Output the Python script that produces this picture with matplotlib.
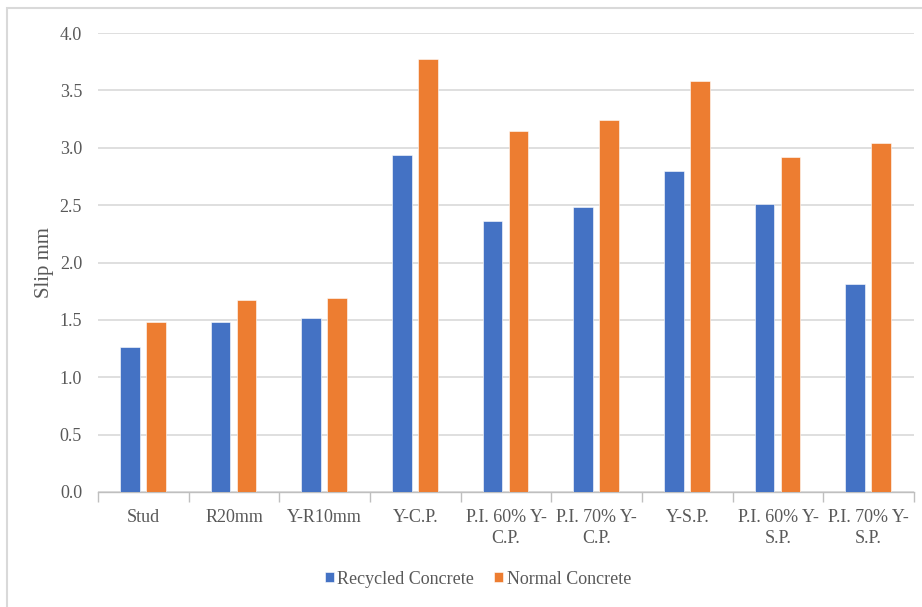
import numpy as np
import matplotlib.pyplot as plt
from matplotlib.patches import Rectangle

categories = ['Stud', 'R20mm', 'Y-R10mm', 'Y-C.P.', 'P.I. 60% Y-\nC.P.', 'P.I. 70% Y-\nC.P.',
              'Y-S.P.', 'P.I. 60% Y-\nS.P.', 'P.I. 70% Y-\nS.P.']
recycled = [1.26, 1.48, 1.52, 2.94, 2.36, 2.48, 2.80, 2.51, 1.81]
normal = [1.48, 1.67, 1.69, 3.77, 3.15, 3.24, 3.58, 2.92, 3.04]
yticks = [0.0, 0.5, 1.0, 1.5, 2.0, 2.5, 3.0, 3.5, 4.0]

plt.rcParams['font.family'] = ['Liberation Serif', 'DejaVu Serif']
txt = '#595959'
grid = '#d9d9d9'

fig = plt.figure(figsize=(9.22, 6.07), dpi=100)
ax = fig.add_axes([98/922, 1-492/607, 816/922, 459/607])

x = np.arange(len(categories))
w = 0.22
ax.bar(x - 0.149, recycled, w, color='#4472C4', edgecolor='white', linewidth=0.4,
       label='Recycled Concrete', zorder=3)
ax.bar(x + 0.138, normal, w, color='#ED7D31', edgecolor='white', linewidth=0.4,
       label='Normal Concrete', zorder=3)

ax.set_xlim(-0.5, len(categories) - 0.5)
ax.set_ylim(0, 4.0)
ax.set_yticks(yticks)
ax.set_yticklabels(['%.1f' % v for v in yticks])
ax.yaxis.grid(True, color=grid, linewidth=1.2, zorder=0)
ax.tick_params(axis='y', length=0, pad=11.5, labelsize=13, labelcolor=txt)

# category boundaries as ticks, labels on minor ticks
ax.set_xticks(np.arange(len(categories) + 1) - 0.5)
ax.set_xticklabels([])
ax.set_xticks(x, minor=True)
ax.set_xticklabels(categories, minor=True, fontsize=13, color=txt, linespacing=1.3)
ax.tick_params(axis='x', which='major', length=7, color='#bfbfbf', width=1)
ax.tick_params(axis='x', which='minor', length=0, pad=12)

for s in ['top', 'right', 'left']:
    ax.spines[s].set_visible(False)
ax.spines['bottom'].set_color('#bfbfbf')
ax.spines['bottom'].set_linewidth(1)

ax.set_ylabel('Slip mm', fontsize=15, color=txt, labelpad=4)

fig.legend(loc='center', bbox_to_anchor=(478/922, 1-579/607), ncol=2, frameon=False,
           fontsize=13, labelcolor=txt, handlelength=0.5, handleheight=0.5,
           handletextpad=0.2, columnspacing=1.1)

fig.patches.append(Rectangle((7/922, -0.05), 1.0, 1-8/607+0.05, transform=fig.transFigure,
                             fill=False, edgecolor=grid, linewidth=1.5))

fig.savefig('out.png', dpi=100)
